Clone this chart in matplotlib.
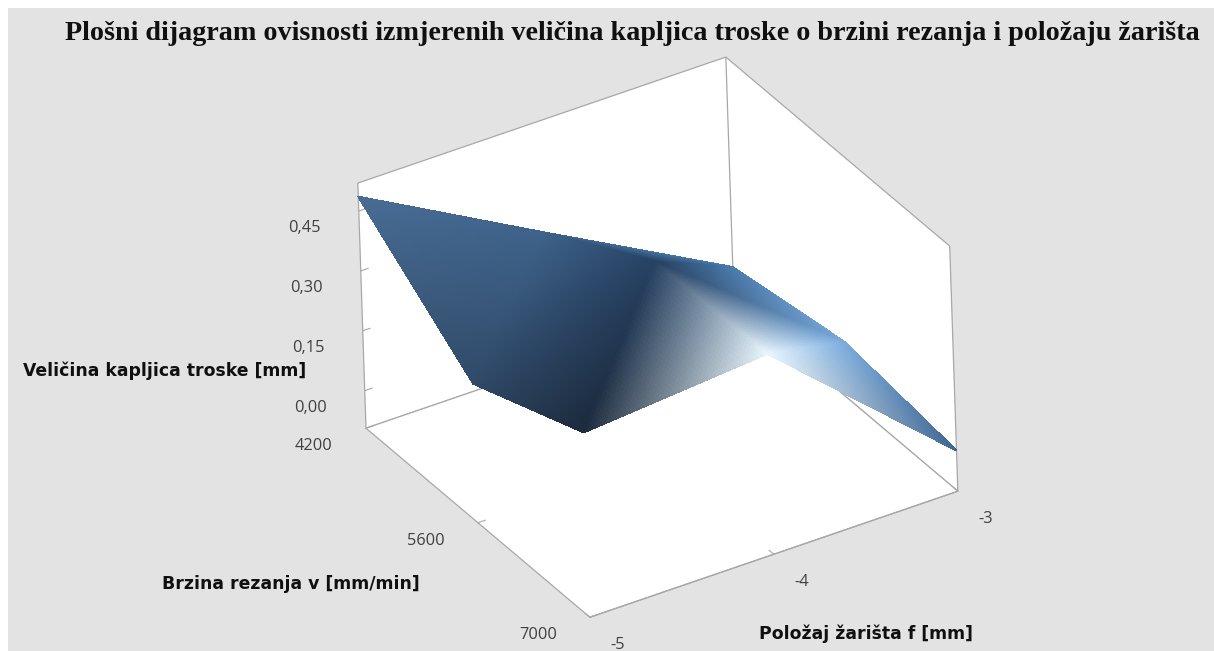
import numpy as np
import matplotlib
matplotlib.use("Agg")
import matplotlib.pyplot as plt
from matplotlib.patches import Rectangle
from mpl_toolkits.mplot3d import proj3d
from mpl_toolkits.mplot3d.art3d import Poly3DCollection

# values: rows are cutting speed, columns focus position
FOCUS = [-5, -4, -3]
SPEED = [4200, 5600, 7000]
DROPLET = [[0.486, 0.238, -0.006],
           [0.254, 0.401, 0.044],
           [0.369, 0.408, 0.008]]
FOCUS_LABELS = ["-5", "-4", "-3"]
SPEED_LABELS = ["4200", "5600", "7000"]
Z_TICKS = [0.00, 0.15, 0.30, 0.45]
Z_TICK_LABELS = ["0,00", "0,15", "0,30", "0,45"]

TITLE = "Plošni dijagram ovisnosti izmjerenih veličina kapljica troske o brzini rezanja i položaju žarišta"
XLABEL = "Položaj žarišta f [mm]"
YLABEL = "Brzina rezanja v [mm/min]"
ZLABEL = "Veličina kapljica troske [mm]"

# colour seen on the surface at each grid node (Gouraud style shading)
NODE_RGB = np.array([[[72, 108, 148], [62, 98, 138], [75, 125, 175]],
                     [[48, 74, 104], [38, 65, 98], [120, 170, 220]],
                     [[28, 42, 60], [232, 246, 255], [60, 100, 145]]]) / 255

W, H = 1214, 651
BG = "#e3e3e3"
LINE = "#a8a8a8"
TICK_TEXT = "#404040"
N_SUB = 40
ZMIN, ZMAX = -0.094, 0.52


def shaded_triangles(x, y, z, rgb):
    """Split each mesh triangle into small flat ones so the colour can blend."""
    polys, cols = [], []
    nodes = []
    for i in range(2):
        for j in range(2):
            nodes.append([(i, j), (i, j + 1), (i + 1, j)])
            nodes.append([(i, j + 1), (i + 1, j + 1), (i + 1, j)])
    for tri in nodes:
        p = np.array([[x[j], y[i], z[i][j]] for i, j in tri], float)
        c = np.array([rgb[i][j] for i, j in tri])
        for a in range(N_SUB):
            for b in range(N_SUB - a):
                cells = [[(a, b), (a + 1, b), (a, b + 1)]]
                if a + b < N_SUB - 1:
                    cells.append([(a + 1, b), (a + 1, b + 1), (a, b + 1)])
                for cs in cells:
                    w = np.array([[u, v, N_SUB - u - v] for u, v in cs]) / N_SUB
                    polys.append(w @ p)
                    cols.append((w.mean(axis=0) @ c).clip(0, 1))
    return polys, cols


def tick_text(ax, x, y, z, label, dx, dy):
    # label placed relative to the projected tick, dx/dy in pixels (y up)
    px, py, _ = proj3d.proj_transform(x, y, z, ax.get_proj())
    ax.annotate(label, (px, py), xytext=(dx, dy), textcoords="offset pixels",
                ha="center", va="center", fontsize=11.8, color=TICK_TEXT,
                family="Open Sans", annotation_clip=False)


fig = plt.figure(figsize=(W / 100, H / 100), dpi=100, facecolor="white")
fig.add_artist(Rectangle((8 / W, 0), 1, 1 - 8 / H, transform=fig.transFigure,
                         facecolor=BG, edgecolor="none", zorder=-5))

side = 655
cx, cy = 649, 346
ax = fig.add_axes([(cx - side / 2) / W, 1 - (cy + side / 2) / H, side / W, side / H],
                  projection="3d")
ax.set_facecolor("none")
ax.set_proj_type("ortho")
ax.view_init(elev=31.7, azim=239.8, roll=1.9)
ax.set_box_aspect((430, 432, 288))

polys, cols = shaded_triangles(FOCUS, SPEED, DROPLET, NODE_RGB)
ax.add_collection3d(Poly3DCollection(polys, facecolors=cols, edgecolors=cols,
                                     linewidths=0.6, antialiased=False))

ax.set_xlim(-5, -3)
ax.set_ylim(7000, 4200)
ax.set_zlim(ZMIN, ZMAX)
ax.set_xticks(FOCUS)
ax.set_yticks(SPEED)
ax.set_zticks(Z_TICKS)
ax.set_xticklabels([""] * 3)
ax.set_yticklabels([""] * 3)
ax.set_zticklabels([""] * 4)
ax.grid(False)
for axis in (ax.xaxis, ax.yaxis, ax.zaxis):
    axis.set_pane_color("white")
    axis.pane.set_edgecolor(LINE)
    axis.pane.set_linewidth(0.9)
    axis.line.set_color(LINE)
    axis.line.set_linewidth(0.9)
    axis._axinfo["tick"]["inward_factor"] = 0.0
    axis._axinfo["tick"]["outward_factor"] = 0.25
ax.tick_params(color=LINE)

# tick labels sit at a fixed offset from each axis
for f, lab in zip(FOCUS, FOCUS_LABELS):
    tick_text(ax, f, 7000, ZMIN, lab, 28, -28)
for v, lab in zip(SPEED, SPEED_LABELS):
    tick_text(ax, -5, v, ZMIN, lab, -52, -18)
for z, lab in zip(Z_TICKS, Z_TICK_LABELS):
    tick_text(ax, -5, 4200, z, lab, -54, -17)

fig.text(65 / W, 1 - 33 / H, TITLE, family="Liberation Serif", weight="bold",
         fontsize=20.26, va="center", color="#101010")
fig.text(23 / W, 1 - 371 / H, ZLABEL, family="DejaVu Sans", weight="bold",
         fontsize=12.4, va="center", color="#101010")
fig.text(162 / W, 1 - 584 / H, YLABEL, family="DejaVu Sans", weight="bold",
         fontsize=12.4, va="center", color="#101010")
fig.text(759 / W, 1 - 634 / H, XLABEL, family="DejaVu Sans", weight="bold",
         fontsize=12.4, va="center", color="#101010")

fig.savefig("out.png", dpi=100)
